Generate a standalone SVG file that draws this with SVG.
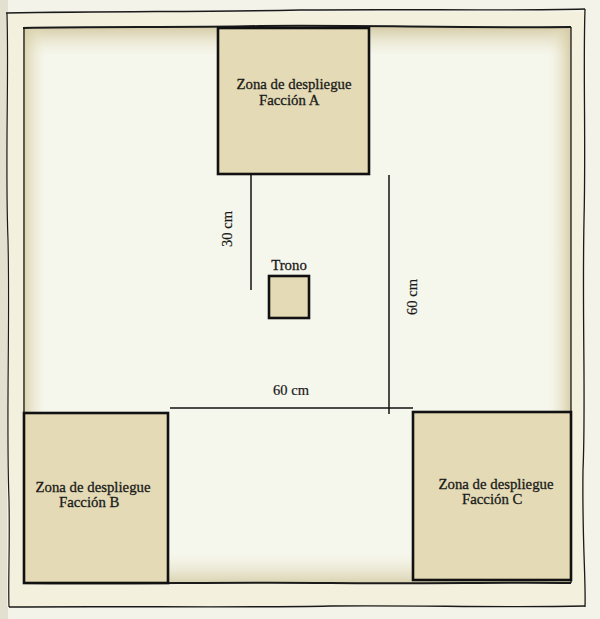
<svg xmlns="http://www.w3.org/2000/svg" width="600" height="619" viewBox="0 0 600 619">
<defs>
<style>
.zone{fill:#e4dab5;stroke:#111;stroke-width:2.6}
.lbl{font-family:"Liberation Serif","Times New Roman",serif;font-size:14.8px;fill:#1a1a1a;stroke:#1a1a1a;stroke-width:0.3}
.dim{font-family:"Liberation Serif","Times New Roman",serif;font-size:14.5px;fill:#1a1a1a;stroke:#1a1a1a;stroke-width:0.2}
.meas{stroke:#111;stroke-width:1.5;fill:none}
.edge{stroke:#1a1a1a;fill:none}
</style>
<linearGradient id="gTop" x1="0" y1="0" x2="0" y2="1"><stop offset="0" stop-color="#cfc49a" stop-opacity="0.85"/><stop offset="1" stop-color="#e9e3c6" stop-opacity="0"/></linearGradient>
<linearGradient id="gBot" x1="0" y1="1" x2="0" y2="0"><stop offset="0" stop-color="#d3c9a2" stop-opacity="0.8"/><stop offset="1" stop-color="#e9e3c6" stop-opacity="0"/></linearGradient>
<linearGradient id="gLeft" x1="0" y1="0" x2="1" y2="0"><stop offset="0" stop-color="#d6cca4" stop-opacity="0.9"/><stop offset="1" stop-color="#ece6c9" stop-opacity="0"/></linearGradient>
<linearGradient id="gRight" x1="1" y1="0" x2="0" y2="0"><stop offset="0" stop-color="#d3c8a0" stop-opacity="0.9"/><stop offset="1" stop-color="#ece6c9" stop-opacity="0"/></linearGradient>
</defs>
<rect width="600" height="619" fill="#f4f3e9"/>
<rect x="0" y="0" width="8" height="619" fill="#e4e0cf"/>
<g id="page">
<rect x="7" y="12" width="578" height="595" fill="#f3f0de"/>
<path class="edge" stroke-width="1.4" d="M6,13 C120,11 200,12 300,10 C420,9 500,11 585,9"/>
<path class="edge" stroke-width="1.2" d="M7,13 C9,80 5,160 8,240 C10,330 6,420 9,500 C10,550 8,580 9,607"/>
<path class="edge" stroke-width="1.3" d="M585,9 C583,70 586,140 584,220 C582,320 586,400 583,470 C582,540 586,580 585,607"/>
<path class="edge" stroke-width="1.4" d="M9,607 C120,606 250,608 330,606 C420,605 500,608 585,606"/>
</g>
<g id="board">
<rect x="23" y="27" width="548" height="556" fill="#f5f6ec"/>
<rect x="23" y="27" width="548" height="28" fill="url(#gTop)"/>
<rect x="23" y="555" width="548" height="28" fill="url(#gBot)"/>
<rect x="23" y="27" width="22" height="556" fill="url(#gLeft)"/>
<rect x="549" y="27" width="22" height="556" fill="url(#gRight)"/>
<path class="edge" stroke-width="2" d="M23,28 C100,26 180,28 260,26 C360,25 460,28 571,27"/>
<path class="edge" stroke-width="1.3" d="M24,28 L24,583"/>
<path class="edge" stroke-width="1.3" d="M571,27 L571,583"/>
<path class="edge" stroke-width="2" d="M23,583 C120,584 240,582 330,583 C430,584 500,582 571,583"/>
</g>
<g id="zone-a">
<rect class="zone" x="218" y="28" width="151" height="146"/>
<text class="lbl" x="294" y="89" text-anchor="middle">Zona de despliegue</text>
<text class="lbl" x="259" y="105">Facción A</text>
</g>
<g id="zone-b">
<rect class="zone" x="24" y="413" width="144" height="170"/>
<text class="lbl" x="93" y="492" text-anchor="middle">Zona de despliegue</text>
<text class="lbl" x="59" y="507">Facción B</text>
</g>
<g id="zone-c">
<rect class="zone" x="413" y="412" width="158" height="168"/>
<text class="lbl" x="496" y="489" text-anchor="middle">Zona de despliegue</text>
<text class="lbl" x="462" y="504">Facción C</text>
</g>
<g id="trono">
<rect class="zone" x="269" y="276" width="40" height="42" stroke-width="3"/>
<text class="lbl" x="289" y="270" text-anchor="middle">Trono</text>
</g>
<g id="connectors">
<line class="meas" x1="251" y1="174" x2="251" y2="290"/>
<line class="meas" x1="389" y1="175" x2="389" y2="414"/>
<line class="meas" x1="170" y1="408" x2="413" y2="408"/>
</g>
<g id="labels">
<text class="dim" x="232" y="229" text-anchor="middle" transform="rotate(-90 232 229)">30 cm</text>
<text class="dim" x="417" y="297" text-anchor="middle" transform="rotate(-90 417 297)">60 cm</text>
<text class="dim" x="291" y="395" text-anchor="middle">60 cm</text>
</g>
</svg>
